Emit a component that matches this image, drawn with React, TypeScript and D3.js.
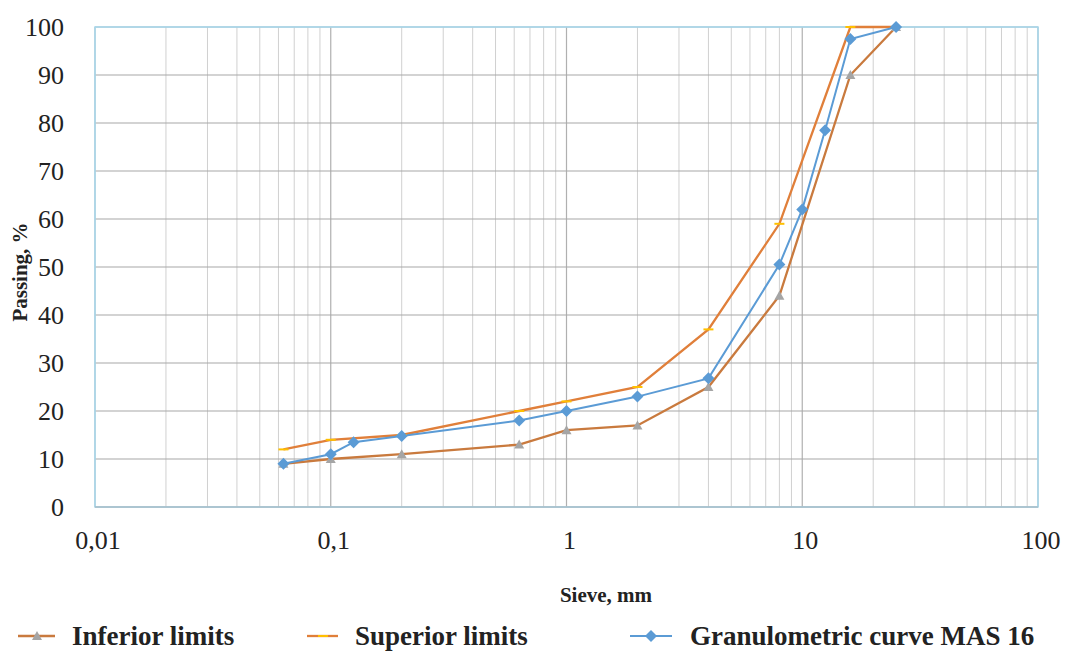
import React from "react";
import * as d3 from "d3";

const sieveInf = [0.063, 0.1, 0.2, 0.63, 1, 2, 4, 8, 16, 25];
const inferior = [9, 10, 11, 13, 16, 17, 25, 44, 90, 100];
const sieveSup = [0.063, 0.1, 0.2, 0.63, 1, 2, 4, 8, 16, 25];
const superior = [12, 14, 15, 20, 22, 25, 37, 59, 100, 100];
const sieveMas = [0.063, 0.1, 0.125, 0.2, 0.63, 1, 2, 4, 8, 10, 12.5, 16, 25];
const mas16 = [9, 11, 13.5, 14.8, 18, 20, 23, 26.8, 50.5, 62, 78.5, 97.5, 100];
const xTickVals = [0.01, 0.1, 1, 10, 100];
const xTickLabels = ["0,01", "0,1", "1", "10", "100"];
const yTickVals = [0, 10, 20, 30, 40, 50, 60, 70, 80, 90, 100];
const seriesNames = ["Inferior limits", "Superior limits", "Granulometric curve MAS 16"];

const W = 1067;
const H = 652;
const L = 95, R = 1038, T = 27, B = 507;

export default function App() {
  const x = d3.scaleLog().domain([0.01, 100]).range([L, R]);
  const y = d3.scaleLinear().domain([0, 100]).range([B, T]);
  const line = d3
    .line<[number, number]>()
    .x((d) => x(d[0]))
    .y((d) => y(d[1]));

  const minor: number[] = [];
  for (let e = -2; e < 2; e++) {
    for (let m = 2; m <= 9; m++) minor.push(m * Math.pow(10, e));
  }
  const infPts = sieveInf.map((s, i) => [s, inferior[i]] as [number, number]);
  const supPts = sieveSup.map((s, i) => [s, superior[i]] as [number, number]);
  const masPts = sieveMas.map((s, i) => [s, mas16[i]] as [number, number]);

  const serif = "'Liberation Serif', 'Times New Roman', serif";
  const tri = (cx: number, cy: number, r: number) =>
    `M${cx},${cy - r}L${cx + r},${cy + r * 0.8}L${cx - r},${cy + r * 0.8}Z`;
  const diamond = (cx: number, cy: number, r: number) =>
    `M${cx},${cy - r}L${cx + r},${cy}L${cx},${cy + r}L${cx - r},${cy}Z`;

  const legY = 636;

  return (
    <svg width={W} height={H} style={{ position: "absolute", left: 0, top: 0, background: "#fff" }}>
      <rect x={0} y={0} width={W} height={H} fill="#fff" />
      {minor.map((v, i) => (
        <line key={"mv" + i} x1={x(v)} x2={x(v)} y1={T} y2={B} stroke="#d0d0d0" strokeWidth={1} />
      ))}
      {xTickVals.map((v, i) => (
        <line key={"Mv" + i} x1={x(v)} x2={x(v)} y1={T} y2={B} stroke="#b0b0b0" strokeWidth={1.2} />
      ))}
      {yTickVals.map((v, i) => (
        <line key={"h" + i} x1={L} x2={R} y1={y(v)} y2={y(v)} stroke="#a8a8a8" strokeWidth={1.2} />
      ))}
      <rect x={L} y={T} width={R - L} height={B - T} fill="none" stroke="#a6d9ee" strokeWidth={1.5} />
      <line x1={L} x2={R} y1={B} y2={B} stroke="#a8b4bc" strokeWidth={1.2} />

      {yTickVals.map((v, i) => (
        <text key={"yt" + i} x={64} y={y(v) + 9} textAnchor="end" fontFamily={serif} fontSize={26} fill="#222">
          {v}
        </text>
      ))}
      {xTickVals.map((v, i) => (
        <text key={"xt" + i} x={x(v) + 3} y={549} textAnchor="middle" fontFamily={serif} fontSize={26} fill="#222">
          {xTickLabels[i]}
        </text>
      ))}

      <path d={line(infPts) || ""} fill="none" stroke="#c97a3e" strokeWidth={2.3} />
      <path d={line(supPts) || ""} fill="none" stroke="#e07f3a" strokeWidth={2.3} />
      <path d={line(masPts) || ""} fill="none" stroke="#5b9bd5" strokeWidth={2} />
      {infPts.map((p, i) => (
        <path key={"ti" + i} d={tri(x(p[0]), y(p[1]), 5)} fill="#a5a5a5" />
      ))}
      {supPts.map((p, i) => (
        <line key={"sp" + i} x1={x(p[0]) - 5} x2={x(p[0]) + 5} y1={y(p[1])} y2={y(p[1])} stroke="#ffc000" strokeWidth={2} />
      ))}
      {masPts.map((p, i) => (
        <path key={"dm" + i} d={diamond(x(p[0]), y(p[1]), 6)} fill="#5b9bd5" />
      ))}

      <text x={606} y={602} textAnchor="middle" fontFamily={serif} fontWeight="bold" fontSize={21} fill="#222">
        Sieve, mm
      </text>
      <text
        transform={`translate(27,272) rotate(-90)`}
        textAnchor="middle"
        fontFamily={serif}
        fontWeight="bold"
        fontSize={21}
        fill="#222"
      >
        Passing, %
      </text>

      <line x1={18} x2={55} y1={legY} y2={legY} stroke="#c97a3e" strokeWidth={2.3} />
      <path d={tri(37, legY, 5)} fill="#a5a5a5" />
      <text x={72} y={legY + 9} fontFamily={serif} fontWeight="bold" fontSize={27} fill="#222">
        {seriesNames[0]}
      </text>
      <line x1={307} x2={338} y1={legY} y2={legY} stroke="#e07f3a" strokeWidth={2.3} />
      <line x1={318} x2={328} y1={legY} y2={legY} stroke="#ffc000" strokeWidth={2} />
      <text x={355} y={legY + 9} fontFamily={serif} fontWeight="bold" fontSize={27} fill="#222">
        {seriesNames[1]}
      </text>
      <line x1={630} x2={672} y1={legY} y2={legY} stroke="#5b9bd5" strokeWidth={2} />
      <path d={diamond(651, legY, 6)} fill="#5b9bd5" />
      <text x={690} y={legY + 9} fontFamily={serif} fontWeight="bold" fontSize={27} fill="#222">
        {seriesNames[2]}
      </text>
    </svg>
  );
}
